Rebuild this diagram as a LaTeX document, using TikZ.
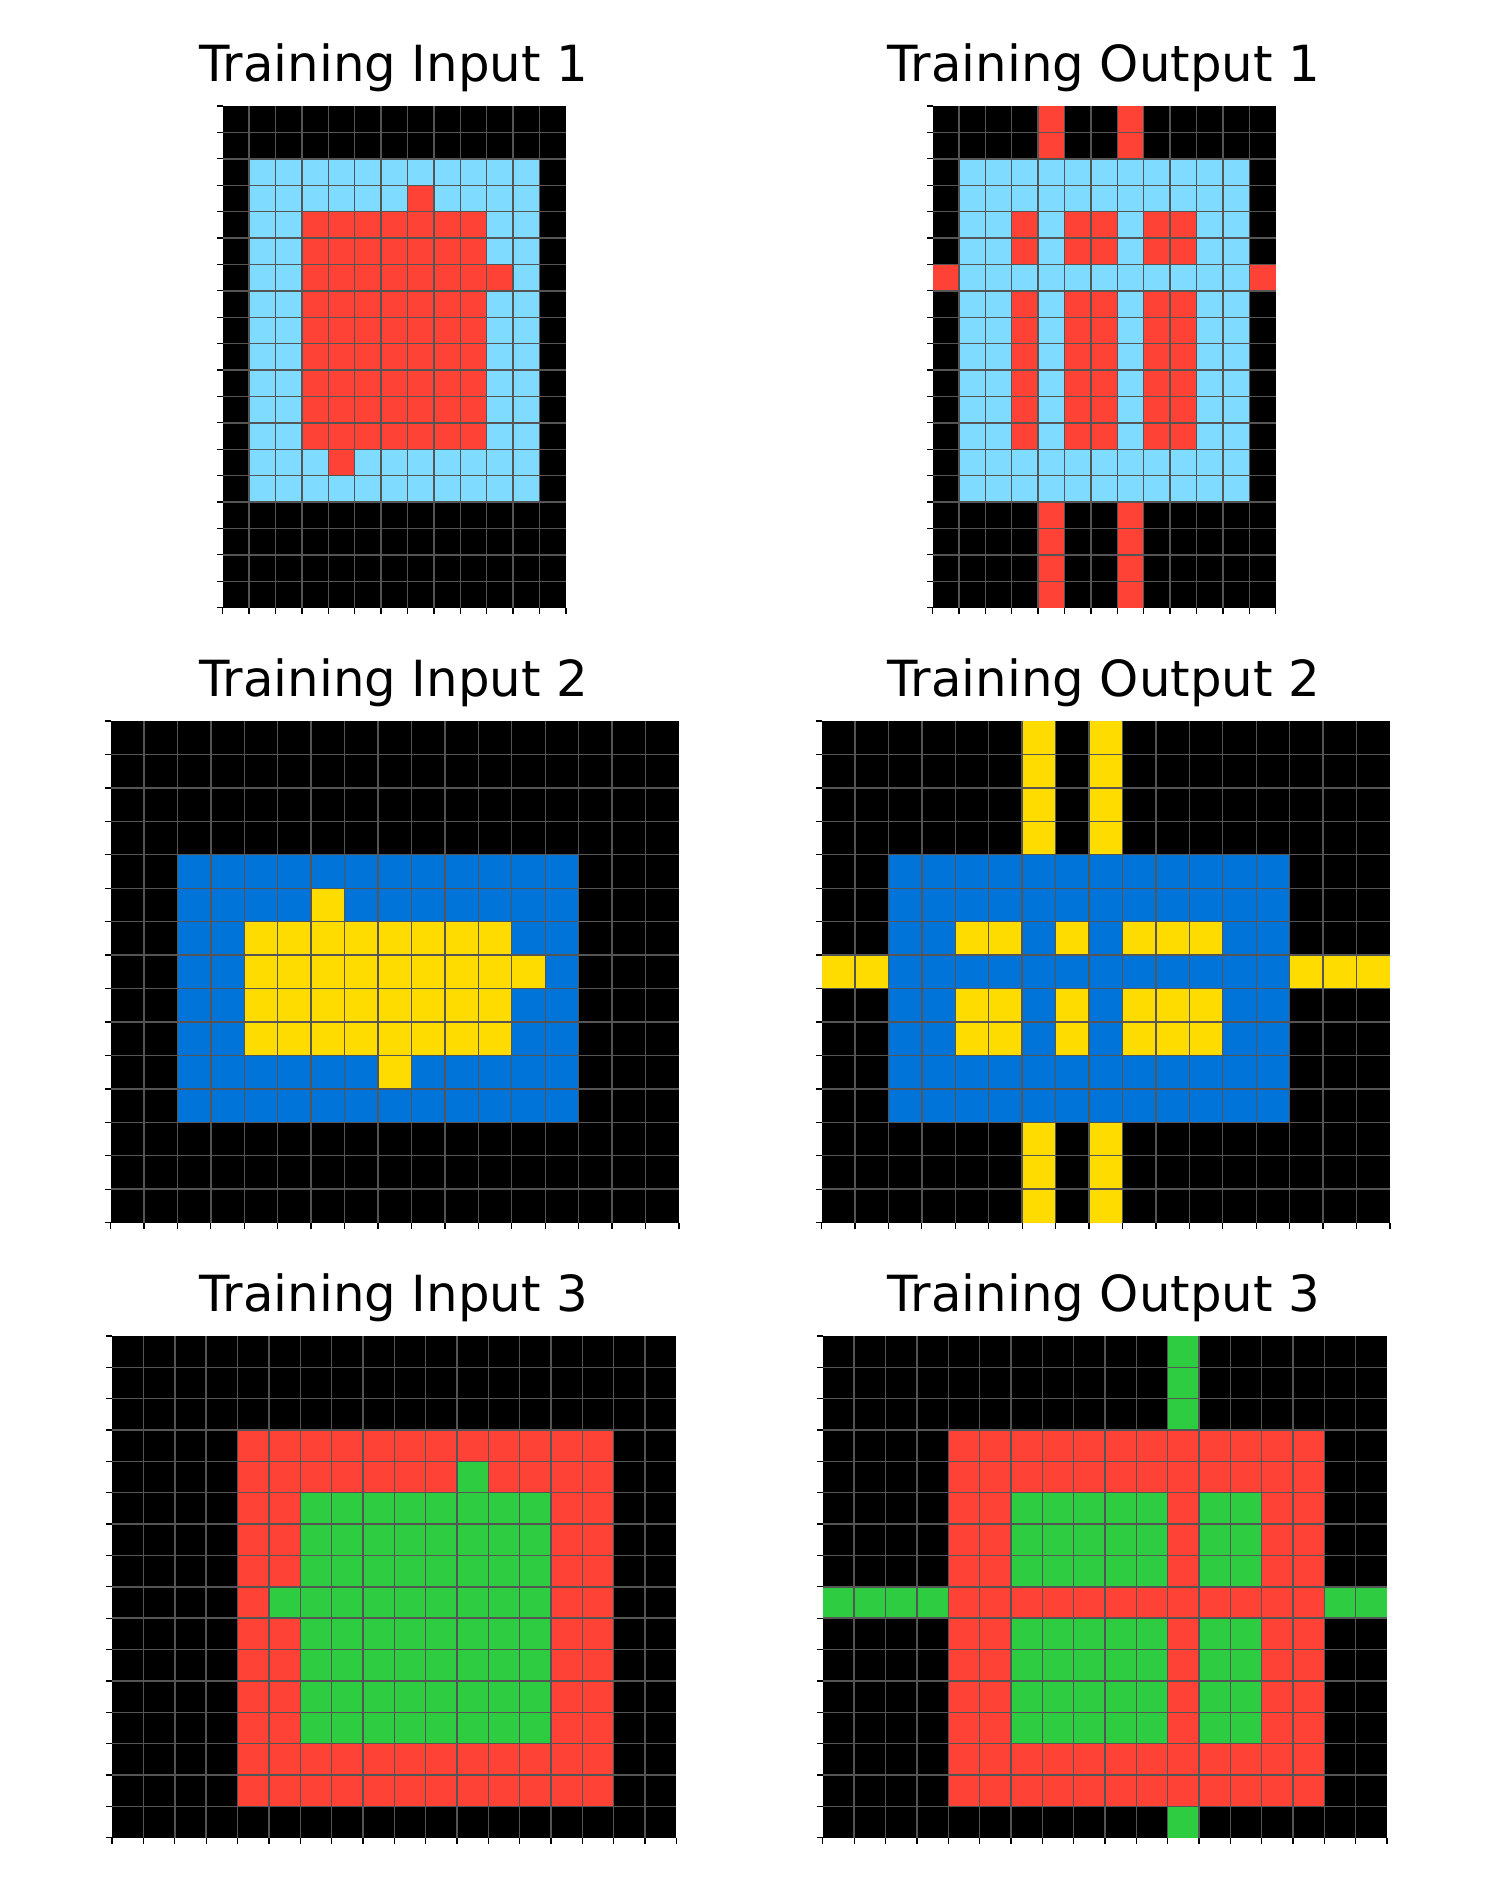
\documentclass[tikz,border=0pt]{standalone}
\usepackage{fontspec}
\setmainfont{DejaVu Sans}
\definecolor{arcK}{HTML}{000000}
\definecolor{arcB}{HTML}{0074D9}
\definecolor{arcR}{HTML}{FF4136}
\definecolor{arcG}{HTML}{2ECC40}
\definecolor{arcY}{HTML}{FFDC00}
\definecolor{arcC}{HTML}{7FDBFF}
\definecolor{gline}{HTML}{555555}
\tikzset{
  gridl/.style={draw=gline, line width=0.7pt},
  tickl/.style={draw=black, line width=0.65pt},
  ptitle/.style={anchor=base, inner sep=0pt, font=\fontsize{24.9}{29}\selectfont},
}
\newcommand{\panelgrid}[4]{%
  \foreach \i in {1,...,#3} \draw[gridl] (\i,0) -- (\i,#2);
  \foreach \j in {1,...,#4} \draw[gridl] (0,\j) -- (#1,\j);
  \foreach \i in {0,...,#1} \draw[tickl] (\i,#2) -- ++(0pt,-3pt);
  \foreach \j in {0,...,#2} \draw[tickl] (0,\j) -- ++(-3pt,0pt);
}
\begin{document}
\begin{tikzpicture}[x=0.5pt,y=-0.5pt]
\useasboundingbox[fill=white] (0,0) rectangle (1500,1890);

% titles
\node[ptitle] (t1) at (394,81.5) {Training Input 1};
\node[ptitle] (t2) at (1104,81.5) {Training Output 1};
\node[ptitle] (t3) at (394,696) {Training Input 2};
\node[ptitle] (t4) at (1104,696) {Training Output 2};
\node[ptitle] (t5) at (394,1311) {Training Input 3};
\node[ptitle] (t6) at (1104,1311) {Training Output 3};

% Training Input 1 (13 x 19)
\begin{scope}[shift={(222.7,106)}, x=13.2pt, y=-13.2pt]
  \fill[arcK] (0,0) rectangle (13,19);
  \fill[arcC] (1,2) rectangle (12,15);
  \fill[arcR] (3,4) rectangle (10,13);
  \fill[arcR] (7,3) rectangle (8,4);
  \fill[arcR] (10,6) rectangle (11,7);
  \fill[arcR] (4,13) rectangle (5,14);
  \panelgrid{13}{19}{12}{18}
\end{scope}

% Training Output 1 (13 x 19)
\begin{scope}[shift={(932.5,106)}, x=13.2pt, y=-13.2pt]
  \fill[arcK] (0,0) rectangle (13,19);
  \fill[arcC] (1,2) rectangle (12,15);
  \fill[arcR] (3,4) rectangle (4,6);
  \fill[arcR] (5,4) rectangle (7,6);
  \fill[arcR] (8,4) rectangle (10,6);
  \fill[arcR] (3,7) rectangle (4,13);
  \fill[arcR] (5,7) rectangle (7,13);
  \fill[arcR] (8,7) rectangle (10,13);
  \fill[arcR] (4,0) rectangle (5,2);
  \fill[arcR] (7,0) rectangle (8,2);
  \fill[arcR] (4,15) rectangle (5,19);
  \fill[arcR] (7,15) rectangle (8,19);
  \fill[arcR] (0,6) rectangle (1,7);
  \fill[arcR] (12,6) rectangle (13,7);
  \panelgrid{13}{19}{12}{18}
\end{scope}

% Training Input 2 (17 x 15)
\begin{scope}[shift={(110.5,721)}, x=16.72pt, y=-16.72pt]
  \fill[arcK] (0,0) rectangle (17,15);
  \fill[arcB] (2,4) rectangle (14,12);
  \fill[arcY] (4,6) rectangle (12,10);
  \fill[arcY] (6,5) rectangle (7,6);
  \fill[arcY] (12,7) rectangle (13,8);
  \fill[arcY] (8,10) rectangle (9,11);
  \panelgrid{17}{15}{16}{14}
\end{scope}

% Training Output 2 (17 x 15)
\begin{scope}[shift={(821.5,721)}, x=16.72pt, y=-16.72pt]
  \fill[arcK] (0,0) rectangle (17,15);
  \fill[arcB] (2,4) rectangle (14,12);
  \fill[arcY] (6,0) rectangle (7,4);
  \fill[arcY] (8,0) rectangle (9,4);
  \fill[arcY] (6,12) rectangle (7,15);
  \fill[arcY] (8,12) rectangle (9,15);
  \fill[arcY] (0,7) rectangle (2,8);
  \fill[arcY] (14,7) rectangle (17,8);
  \fill[arcY] (4,6) rectangle (6,7);
  \fill[arcY] (7,6) rectangle (8,7);
  \fill[arcY] (9,6) rectangle (12,7);
  \fill[arcY] (4,8) rectangle (6,10);
  \fill[arcY] (7,8) rectangle (8,10);
  \fill[arcY] (9,8) rectangle (12,10);
  \panelgrid{17}{15}{16}{14}
\end{scope}

% Training Input 3 (18 x 16)
\begin{scope}[shift={(112.1,1336)}, x=15.675pt, y=-15.675pt]
  \fill[arcK] (0,0) rectangle (18,16);
  \fill[arcR] (4,3) rectangle (16,15);
  \fill[arcG] (6,5) rectangle (14,13);
  \fill[arcG] (11,4) rectangle (12,5);
  \fill[arcG] (5,8) rectangle (6,9);
  \panelgrid{18}{16}{17}{15}
\end{scope}

% Training Output 3 (18 x 16)
\begin{scope}[shift={(822.8,1336)}, x=15.675pt, y=-15.675pt]
  \fill[arcK] (0,0) rectangle (18,16);
  \fill[arcR] (4,3) rectangle (16,15);
  \fill[arcG] (6,5) rectangle (11,8);
  \fill[arcG] (12,5) rectangle (14,8);
  \fill[arcG] (6,9) rectangle (11,13);
  \fill[arcG] (12,9) rectangle (14,13);
  \fill[arcG] (11,0) rectangle (12,3);
  \fill[arcG] (11,15) rectangle (12,16);
  \fill[arcG] (0,8) rectangle (4,9);
  \fill[arcG] (16,8) rectangle (18,9);
  \panelgrid{18}{16}{17}{15}
\end{scope}
\end{tikzpicture}
\end{document}
